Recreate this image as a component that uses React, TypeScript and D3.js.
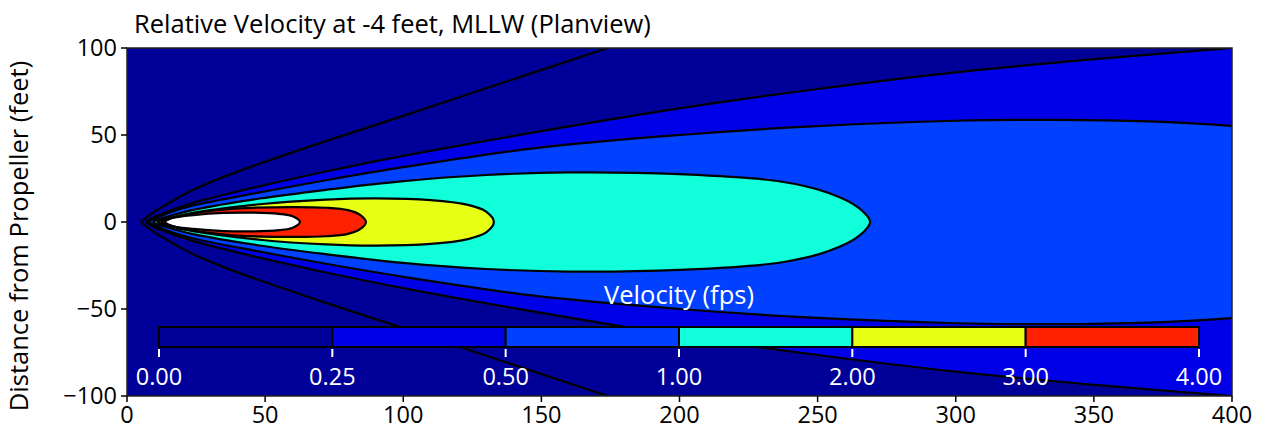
import React, { useEffect, useRef } from 'react';
import * as d3 from 'd3';

// contour levels shown on the colour bar (fps)
const levels = [0, 0.25, 0.5, 1, 2, 3, 4];
const xTicks = [0, 50, 100, 150, 200, 250, 300, 350, 400];
const yTicks = [-100, -50, 0, 50, 100];

// half-width of each contour (feet from centreline) vs distance from propeller (feet)
const outerLine: [number, number][] = [[5.3, 0], [6.5, 2], [9, 5], [12, 8], [18, 13.5], [24, 18.5], [36, 26.5], [48, 33.5], [72, 46.5], [100, 61], [136, 80], [174, 100], [220, 124], [300, 165]];
const level025: [number, number][] = [[7, 0], [8, 1.3], [10, 3], [16, 6.8], [24, 11], [48, 20.5], [72, 29], [100, 38], [148, 51.7], [200, 65.3], [248, 76], [300, 86], [348, 93.3], [400, 100], [460, 107]];
const level05: [number, number][] = [[8, 0], [9, 1.2], [11, 2.6], [16, 5.8], [24, 9.5], [48, 17], [72, 24], [100, 31.5], [148, 42.5], [200, 50], [248, 55], [300, 58.2], [335, 58.7], [370, 57.8], [400, 55.2], [460, 47]];
const level1: [number, number][] = [[9.5, 0], [10.5, 1], [13, 2.3], [18, 4.6], [24, 7], [48, 13.5], [72, 18.5], [100, 23.5], [130, 27], [160, 28.5], [200, 27.5], [236, 23.4], [254, 16.7], [265, 8], [269, 0]];
const level2: [number, number][] = [[11, 0], [12, 0.8], [15, 2.2], [24, 5.3], [48, 10.2], [72, 12.9], [90, 13.6], [110, 12.6], [123, 10], [130, 6], [132.8, 0]];
const level3: [number, number][] = [[12.5, 0], [13.5, 0.9], [16, 2.2], [24, 5], [40, 7.8], [60, 8.6], [72, 8.2], [80, 6.8], [84.5, 4], [86.5, 0]];
const level4: [number, number][] = [[13.8, 0], [15, 1.4], [17, 2.6], [24, 4], [35, 5.2], [45, 5.4], [55, 4.7], [60, 3.3], [62.6, 0]];

const bandColors = ['#000099', '#0000e6', '#0040ff', '#12ffdc', '#e6ff14', '#ff2000'];

// closed contour: upper edge left to right, lower edge back to the tip
const ring = (pts: [number, number][]) => [
    ...pts,
    ...pts.slice(1, -1).reverse().map(([a, b]) => [a, -b] as [number, number]),
];

// open contour: lower edge from far right to the tip, then upper edge out again
const fan = (pts: [number, number][]) => [
    ...pts.slice(1).reverse().map(([a, b]) => [a, -b] as [number, number]),
    ...pts,
];

const App = () => {
    const svgRef = useRef<SVGSVGElement>(null);

    useEffect(() => {
        document.body.style.margin = '0';
        const width = 1265;
        const height = 443;
        const m = { left: 127, right: 1232, top: 48, bottom: 396 };
        const font = "'Open Sans', sans-serif";

        const svg = d3.select(svgRef.current);
        svg.selectAll('*').remove();
        svg.attr('width', width).attr('height', height);

        const x = d3.scaleLinear().domain([0, 400]).range([m.left, m.right]);
        const y = d3.scaleLinear().domain([-100, 100]).range([m.bottom, m.top]);

        svg.append('defs').append('clipPath').attr('id', 'plot')
            .append('rect')
            .attr('x', m.left).attr('y', m.top)
            .attr('width', m.right - m.left).attr('height', m.bottom - m.top);

        const closedLine = d3.line<[number, number]>()
            .x(d => x(d[0]))
            .y(d => y(d[1]))
            .curve(d3.curveCatmullRomClosed.alpha(0.5));
        const openLine = d3.line<[number, number]>()
            .x(d => x(d[0]))
            .y(d => y(d[1]))
            .curve(d3.curveCatmullRom.alpha(0.5));

        const g = svg.append('g').attr('clip-path', 'url(#plot)');
        g.append('rect')
            .attr('x', m.left).attr('y', m.top)
            .attr('width', m.right - m.left).attr('height', m.bottom - m.top)
            .attr('fill', bandColors[0]);

        // open bands (run off the right edge)
        g.append('path').attr('d', openLine(fan(level025)) + 'Z').attr('fill', bandColors[1]);
        g.append('path').attr('d', openLine(fan(level05)) + 'Z').attr('fill', bandColors[2]);

        const closed: [[number, number][], string][] = [
            [level1, bandColors[3]],
            [level2, bandColors[4]],
            [level3, bandColors[5]],
            [level4, '#ffffff'],
        ];
        closed.forEach(([pts, c]) => {
            g.append('path').attr('d', closedLine(ring(pts))).attr('fill', c);
        });

        [outerLine, level025, level05].forEach(pts => {
            g.append('path')
                .attr('d', openLine(fan(pts)))
                .attr('fill', 'none')
                .attr('stroke', '#000')
                .attr('stroke-width', 2.2);
        });
        closed.forEach(([pts]) => {
            g.append('path')
                .attr('d', closedLine(ring(pts)))
                .attr('fill', 'none')
                .attr('stroke', '#000')
                .attr('stroke-width', 2.2);
        });

        // colour bar inside the plot
        const cb = d3.scalePoint<number>().domain(levels).range([159, 1199]);
        const cbTop = 327;
        const cbBottom = 347;
        const cbar = svg.append('g');
        levels.slice(0, -1).forEach((v, i) => {
            cbar.append('rect')
                .attr('x', cb(v)!)
                .attr('y', cbTop)
                .attr('width', cb(levels[i + 1])! - cb(v)!)
                .attr('height', cbBottom - cbTop)
                .attr('fill', bandColors[i])
                .attr('stroke', '#000')
                .attr('stroke-width', 2);
        });
        levels.forEach(v => {
            cbar.append('line')
                .attr('x1', cb(v)!).attr('x2', cb(v)!)
                .attr('y1', cbBottom + 2).attr('y2', cbBottom + 10)
                .attr('stroke', '#fff').attr('stroke-width', 2);
            cbar.append('text')
                .attr('x', cb(v)!)
                .attr('y', 385)
                .attr('text-anchor', 'middle')
                .attr('fill', '#fff')
                .style('font', `23.5px ${font}`)
                .text(d3.format('.2f')(v));
        });
        cbar.append('text')
            .attr('x', (159 + 1199) / 2)
            .attr('y', 304)
            .attr('text-anchor', 'middle')
            .attr('fill', '#fff')
            .style('font', `25.5px ${font}`)
            .text('Velocity (fps)');

        // frame
        svg.append('rect')
            .attr('x', m.left).attr('y', m.top)
            .attr('width', m.right - m.left).attr('height', m.bottom - m.top)
            .attr('fill', 'none').attr('stroke', '#222').attr('stroke-width', 1.5);

        const xAxis = svg.append('g');
        xTicks.forEach(v => {
            xAxis.append('line')
                .attr('x1', x(v)).attr('x2', x(v))
                .attr('y1', m.bottom).attr('y2', m.bottom + 6)
                .attr('stroke', '#000').attr('stroke-width', 1.5);
            xAxis.append('text')
                .attr('x', x(v)).attr('y', 423)
                .attr('text-anchor', 'middle')
                .style('font', `23.5px ${font}`)
                .text(v);
        });

        const yAxis = svg.append('g');
        yTicks.forEach(v => {
            yAxis.append('line')
                .attr('x1', m.left - 6).attr('x2', m.left)
                .attr('y1', y(v)).attr('y2', y(v))
                .attr('stroke', '#000').attr('stroke-width', 1.5);
            yAxis.append('text')
                .attr('x', m.left - 10).attr('y', y(v))
                .attr('dy', '0.36em')
                .attr('text-anchor', 'end')
                .style('font', `23.5px ${font}`)
                .text(v < 0 ? `\u2212${Math.abs(v)}` : v);
        });

        svg.append('text')
            .attr('transform', `translate(28,236) rotate(-90)`)
            .attr('text-anchor', 'middle')
            .style('font', `25.5px ${font}`)
            .text('Distance from Propeller (feet)');

        svg.append('text')
            .attr('x', 134).attr('y', 33)
            .style('font', `25.5px ${font}`)
            .text('Relative Velocity at -4 feet, MLLW (Planview)');
    }, []);

    return <svg ref={svgRef} style={{ display: 'block' }}></svg>;
};

export default App;
